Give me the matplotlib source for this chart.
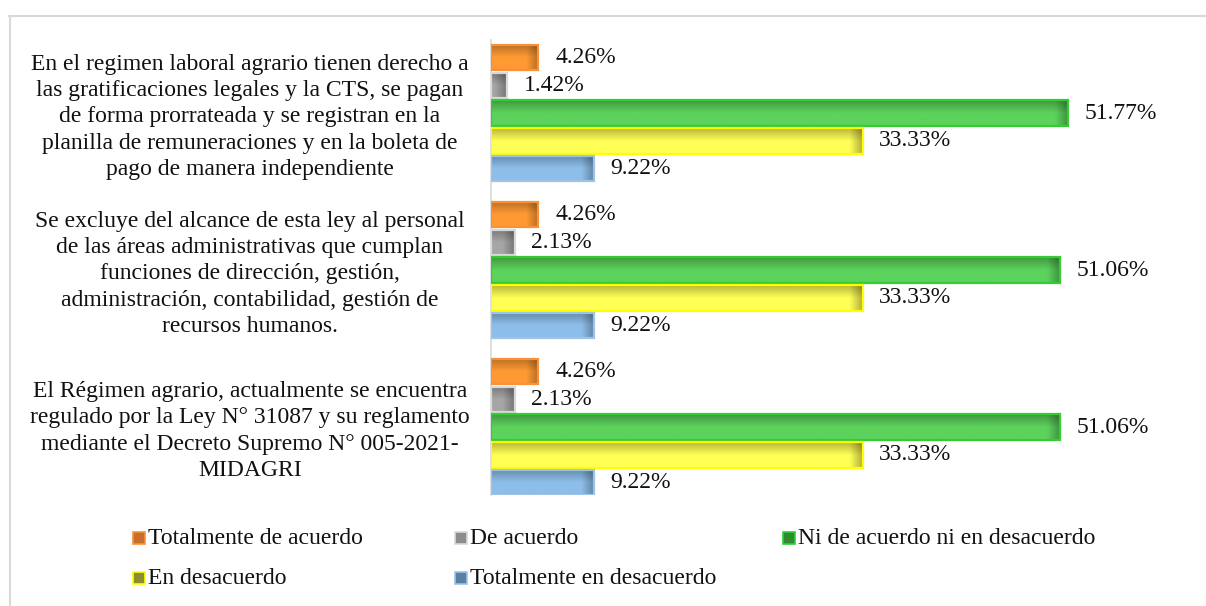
import numpy as np
import matplotlib.pyplot as plt
from matplotlib.patches import Rectangle
from matplotlib.lines import Line2D
import matplotlib.transforms as mtransforms

plt.rcParams['font.family'] = ['Liberation Serif', 'DejaVu Serif']

# data (top to bottom in the picture)
questions = [
    "En el regimen laboral agrario tienen derecho a\nlas gratificaciones legales y la CTS, se pagan\n"
    "de forma prorrateada y se registran en la\nplanilla de remuneraciones y en la boleta de\n"
    "pago de manera independiente",
    "Se excluye del alcance de esta ley al personal\nde las áreas administrativas que cumplan\n"
    "funciones de dirección, gestión,\nadministración, contabilidad, gestión de\nrecursos humanos.",
    "El Régimen agrario, actualmente se encuentra\nregulado por la Ley N° 31087 y su reglamento\n"
    "mediante el Decreto Supremo N° 005-2021-\nMIDAGRI",
]
series = ["Totalmente de acuerdo", "De acuerdo", "Ni de acuerdo ni en desacuerdo",
          "En desacuerdo", "Totalmente en desacuerdo"]
tot_acuerdo = [4.26, 4.26, 4.26]
de_acuerdo = [1.42, 2.13, 2.13]
ni_ni = [51.77, 51.06, 51.06]
en_desacuerdo = [33.33, 33.33, 33.33]
tot_desacuerdo = [9.22, 9.22, 9.22]
values = [tot_acuerdo, de_acuerdo, ni_ni, en_desacuerdo, tot_desacuerdo]

# styles
fills = ["#FF9933", "#A6A6A6", "#5CD35C", "#FFFF55", "#8DBEEA"]
edges = ["#F7923A", "#D9D9D9", "#33CC33", "#FFFF00", "#9DC3E6"]
marker_fc = ["#C8702A", "#8C8C8C", "#2E8B2E", "#8C8C30", "#5A7FA5"]
FS = 17

fig = plt.figure(figsize=(12.06, 6.06), dpi=100)
ax = fig.add_axes([491 / 1206, 1 - 495 / 606, 689 / 1206, 455 / 606])

bar_h = 0.16
step = 0.178
y_groups = np.arange(len(questions))


def shade_bar(ax, patch, color):
    x0, y0 = patch.get_x(), patch.get_y()
    w, h = patch.get_width(), patch.get_height()
    if w <= 0:
        return
    ny, nx = 40, 200
    yy = np.linspace(0, 1, ny)[:, None]          # 0 = top (axis inverted)
    xx = np.linspace(0, w, nx)[None, :]
    fy = 0.72 + 0.28 * np.clip(yy / 0.5, 0, 1)
    fx = 1 - 0.3 * np.clip((xx - (w - 1.1)) / 1.1, 0, 1)
    base = np.array(plt.matplotlib.colors.to_rgb(color))
    img = np.clip(base[None, None, :] * (fy * fx)[:, :, None], 0, 1)
    im = ax.imshow(img, extent=(x0, x0 + w, y0 + h, y0), aspect='auto',
                   interpolation='bilinear', zorder=2)
    im.set_clip_path(patch)


for i, (vals, name) in enumerate(zip(values, series)):
    ypos = y_groups + (i - 2) * step
    bars = ax.barh(ypos, vals, height=bar_h, color=fills[i], edgecolor=edges[i],
                   linewidth=1.6, zorder=3, label=name)
    for b in bars:
        b.set_facecolor('none')
        shade_bar(ax, b, fills[i])
    for y, v in zip(ypos, vals):
        ax.text(v + 1.5, y, f"{v:.2f}%", va='center', ha='left', fontsize=FS,
                color='#111111')

ax.set_xlim(0, 61.8)
ax.set_ylim(len(questions) - 1 + 0.433, -0.465)
ax.set_xticks([])
ax.set_yticks([])
for s in ['top', 'right', 'bottom']:
    ax.spines[s].set_visible(False)
ax.spines['left'].set_color('#D9D9D9')
ax.spines['left'].set_linewidth(1.2)

# category labels
trans = mtransforms.blended_transform_factory(fig.transFigure, ax.transData)
for g, q in zip(y_groups, questions):
    ax.text(250 / 1206, g + 0.025, q, transform=trans, ha='center', va='center',
            multialignment='center', fontsize=FS, linespacing=1.33,
            color='#111111')

# legend, laid out like the original
leg_pos = [(133, 538), (455, 538), (783, 538), (133, 578), (455, 578)]
for i, name in enumerate(series):
    px, py = leg_pos[i]
    fig.add_artist(Rectangle((px / 1206, 1 - (py + 6) / 606), 12 / 1206, 12 / 606,
                             transform=fig.transFigure, facecolor=marker_fc[i],
                             edgecolor=edges[i], linewidth=1.2))
    fig.text((px + 15) / 1206, 1 - py / 606, name, ha='left', va='center',
             fontsize=FS, color='#111111')

# outer frame (top and left edges visible)
fig.add_artist(Line2D([9 / 1206, 1], [1 - 16 / 606, 1 - 16 / 606],
                      transform=fig.transFigure, color='#D9D9D9', linewidth=1.5))
fig.add_artist(Line2D([10 / 1206, 10 / 1206], [0, 1 - 16 / 606],
                      transform=fig.transFigure, color='#D9D9D9', linewidth=1.5))

fig.savefig('out.png', dpi=100)
